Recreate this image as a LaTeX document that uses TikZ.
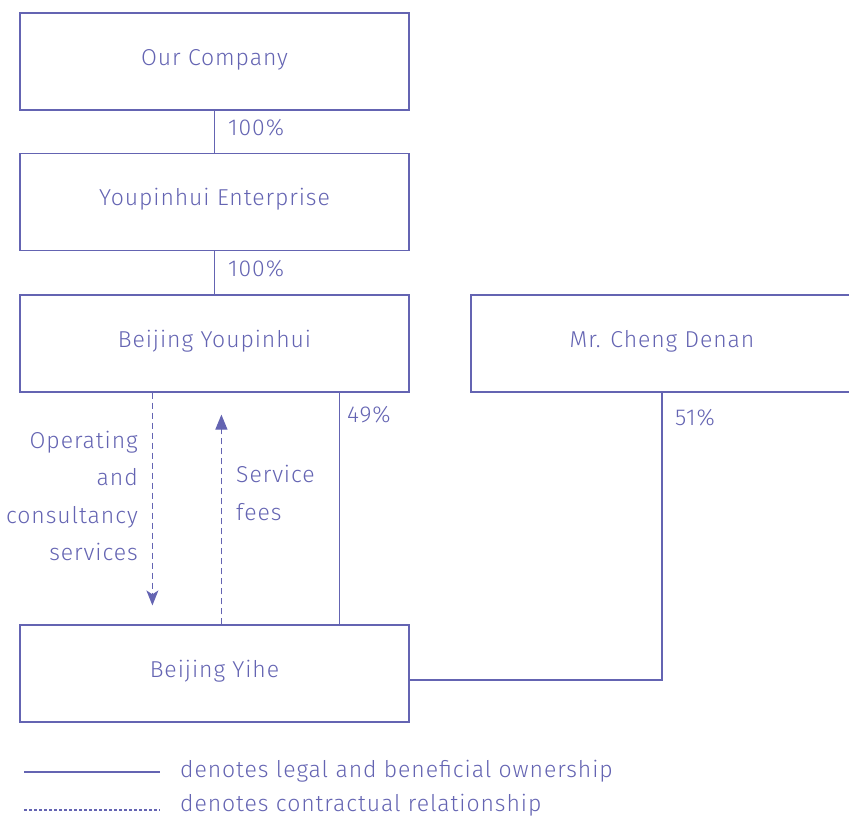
\documentclass[tikz,border=0pt]{standalone}
\usepackage{fontspec}
\setmainfont{Fira Sans Light}[LetterSpace=4]
\usetikzlibrary{arrows.meta,calc}
\definecolor{ink}{RGB}{100,100,178}
\begin{document}
\begin{tikzpicture}[x=1pt,y=-1pt,
  txt/.style={text=ink, font=\fontsize{23}{27}\selectfont, inner sep=0pt},
  box/.style={txt, draw=ink, line width=1.2pt, minimum width=389pt, minimum height=97pt, text height=16pt, text depth=8pt},
  own/.style={draw=ink, line width=1.2pt},
  contract/.style={draw=ink, line width=1.2pt, dash pattern=on 6pt off 4pt},
  legdash/.style={draw=ink, line width=1.1pt, dash pattern=on 3pt off 2pt}]
\useasboundingbox (0,0) rectangle (849,818);
\node[box] (oc) at (214.5,61.5) {Our Company};
\node[box] (ye) at (214.5,202) {Youpinhui Enterprise};
\node[box] (by) at (214.5,343.5) {Beijing Youpinhui};
\node[box, minimum width=382pt] (mc) at (662,343.5) {Mr. Cheng Denan};
\node[box] (yh) at (214.5,673.5) {Beijing Yihe};
% ownership
\draw[own] (oc.south) -- (ye.north);
\node[txt, anchor=west] (p1) at (228,128) {100\%};
\draw[own] (ye.south) -- (by.north);
\node[txt, anchor=west] (p2) at (228,269) {100\%};
\draw[own] ($(by.south east)+(-70,0)$) coordinate (a49) -- (a49 |- yh.north);
\node[txt, anchor=west] (p3) at (347,415) {49\%};
\coordinate (yhr) at ($(yh.east)+(0,6.5)$);
\draw[own] (mc.south) -- (mc.south |- yhr) -- (yhr);
\node[txt, anchor=west] (p4) at (675,418) {51\%};
% contractual
\coordinate (d1) at ($(by.south west)+(133,0)$);
\draw[contract, -{Stealth[length=15pt,width=12pt,inset=4pt]}] (d1) -- ($(d1 |- yh.north)+(0,-19)$);
\node[txt, anchor=east, align=right, font=\fontsize{23}{37.5}\selectfont] (ops) at (138,496) {Operating\\and\\consultancy\\services};
\coordinate (u1) at ($(yh.north west)+(202,0)$);
\draw[contract, -{Triangle[length=15pt,width=12pt]}] (u1) -- ($(u1 |- by.south)+(0,22)$);
\node[txt, anchor=west, align=left, font=\fontsize{23}{37.5}\selectfont] (sf) at (236,493) {Service\\fees};
% legend
\coordinate (l1a) at (24,772); \coordinate (l1b) at (160,772);
\draw[own, line width=1.1pt] (l1a) -- (l1b);
\node[txt, anchor=west] (lg1) at (180,771) {denotes legal and beneficial ownership};
\coordinate (l2a) at (24,810); \coordinate (l2b) at (160,810);
\draw[legdash] (l2a) -- (l2b);
\node[txt, anchor=west] (lg2) at (180,805) {denotes contractual relationship};
\end{tikzpicture}
\end{document}
